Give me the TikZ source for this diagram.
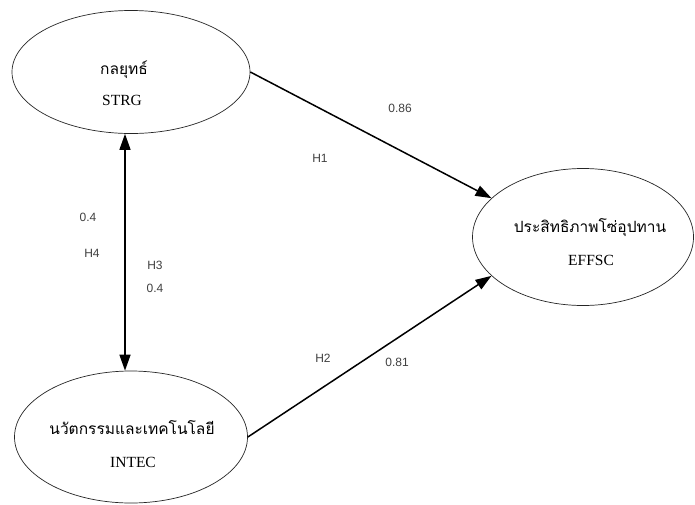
\documentclass[tikz,border=0pt]{standalone}
\usepackage{fontspec}
\setmainfont{Liberation Serif}
\newfontfamily\thaifont[Script=Thai]{Loma}
\newfontfamily\lblfont{Liberation Sans}
\usetikzlibrary{shapes.geometric,arrows.meta}
\tikzset{
  latent/.style={ellipse,draw=black!85,line width=0.7pt,inner sep=0pt},
  thaitxt/.style={font=\thaifont\fontsize{15.5}{17}\selectfont,inner sep=0pt},
  engtxt/.style={font=\fontsize{15.5}{17}\selectfont,inner sep=0pt},
  lbl/.style={font=\lblfont\fontsize{12}{14}\selectfont,text=black!75,inner sep=0pt},
  path/.style={line width=1.5pt,-{Triangle[length=16pt,width=11pt]}},
  dpath/.style={line width=1.5pt,{Triangle[length=16pt,width=11pt]}-{Triangle[length=16pt,width=11pt]}}
}
\begin{document}
\begin{tikzpicture}[x=1pt,y=-1pt]
\useasboundingbox[fill=white] (0,0) rectangle (695,504);
\node[latent,minimum width=238pt,minimum height=123pt] (strg) at (131,72) {};
\node[latent,minimum width=221pt,minimum height=137pt] (effsc) at (583,237) {};
\node[latent,minimum width=233pt,minimum height=132pt] (intec) at (131,437) {};
\node[thaitxt] (strgT) at (124,70) {กลยุทธ์};
\node[engtxt] (strgE) at (122,100) {STRG};
\node[thaitxt] (effscT) at (590,228) {ประสิทธิภาพโซ่อุปทาน};
\node[engtxt] (effscE) at (591,260) {EFFSC};
\node[thaitxt] (intecT) at (132,428) {นวัตกรรมและเทคโนโลยี};
\node[engtxt] (intecE) at (133,462) {INTEC};
\draw[path] (strg.east) -- (effsc.157);
\draw[path] (intec.east) -- (effsc.203);
\draw[dpath] ([xshift=-6pt]strg.south) -- ([xshift=-6pt]intec.north);
\node[lbl] (l1) at (400,108) {0.86};
\node[lbl] (l2) at (320,158) {H1};
\node[lbl] (l3) at (323,358) {H2};
\node[lbl] (l4) at (397,362) {0.81};
\node[lbl] (l5) at (88,217) {0.4};
\node[lbl] (l6) at (92,253) {H4};
\node[lbl] (l7) at (155,265) {H3};
\node[lbl] (l8) at (155,288) {0.4};
\end{tikzpicture}
\end{document}
